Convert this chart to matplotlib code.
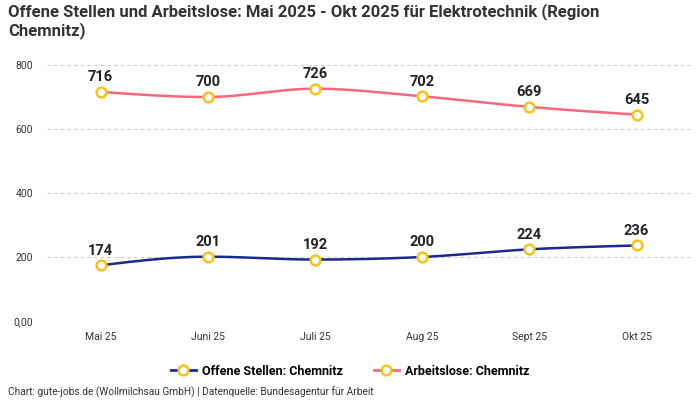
import numpy as np
import matplotlib.pyplot as plt
from matplotlib.lines import Line2D

months = ["Mai 25", "Juni 25", "Juli 25", "Aug 25", "Sept 25", "Okt 25"]
offene_stellen = [174, 201, 192, 200, 224, 236]
arbeitslose = [716, 700, 726, 702, 669, 645]
yticks = [0, 200, 400, 600, 800]
ytick_labels = ["0,00", "200", "400", "600", "800"]

navy = "#1b2a8a"
pink = "#f7687f"
yellow = "#f7c21b"

plt.rcParams['font.family'] = ['Roboto', 'DejaVu Sans']


def monotone(x, y, n=30):
    # d3 curveMonotoneX style smoothing
    x = np.asarray(x, float)
    y = np.asarray(y, float)
    h = np.diff(x)
    s = np.diff(y) / h
    m = np.zeros_like(y)
    for i in range(1, len(y) - 1):
        if s[i - 1] * s[i] <= 0:
            m[i] = 0
        else:
            p = (s[i - 1] * h[i] + s[i] * h[i - 1]) / (h[i - 1] + h[i])
            m[i] = np.sign(s[i - 1]) * min(abs(s[i - 1]), abs(s[i]), 0.5 * abs(p)) * 2
    m[0] = (3 * s[0] - m[1]) / 2
    m[-1] = (3 * s[-1] - m[-2]) / 2
    xs, ys = [], []
    for i in range(len(h)):
        t = np.linspace(0, 1, n)
        h00 = 2 * t**3 - 3 * t**2 + 1
        h10 = t**3 - 2 * t**2 + t
        h01 = -2 * t**3 + 3 * t**2
        h11 = t**3 - t**2
        xs.append(x[i] + t * h[i])
        ys.append(h00 * y[i] + h10 * h[i] * m[i] + h01 * y[i + 1] + h11 * h[i] * m[i + 1])
    return np.concatenate(xs), np.concatenate(ys)


fig = plt.figure(figsize=(7, 4), dpi=100)
ax = fig.add_axes([0.067, 0.1975, 0.919, 0.64])

x = np.arange(len(months))
for vals, col in [(offene_stellen, navy), (arbeitslose, pink)]:
    sx, sy = monotone(x, vals)
    ax.plot(sx, sy, color=col, lw=1.8, zorder=2)
    ax.plot(x, vals, 'o', ms=7, mfc='white', mec=yellow, mew=1.8, zorder=3)
    for xi, v in zip(x, vals):
        ax.annotate(str(v), (xi, v), xytext=(0, 5.5), textcoords='offset points',
                    ha='center', va='bottom', fontsize=10.5, fontweight='bold', color='#222222')

ax.set_xlim(-0.5, 5.5)
ax.set_ylim(0, 800)
ax.set_xticks(x)
ax.set_xticklabels(months, fontsize=7.5, color='#333333')
ax.set_yticks(yticks)
ax.set_yticklabels(ytick_labels, fontsize=7.5, color='#333333')
ax.tick_params(length=0)
ax.tick_params(axis='x', pad=8)
ax.tick_params(axis='y', pad=10)
for sp in ax.spines.values():
    sp.set_visible(False)
ax.grid(axis='y', ls=(0, (3, 3)), color='#cccccc', lw=0.8)
ax.set_axisbelow(True)

handles = [
    Line2D([0], [0], color=navy, lw=2, marker='o', ms=7, mfc='white', mec=yellow, mew=1.8),
    Line2D([0], [0], color=pink, lw=2, marker='o', ms=7, mfc='white', mec=yellow, mew=1.8),
]
leg = fig.legend(handles, ["Offene Stellen: Chemnitz", "Arbeitslose: Chemnitz"],
                 loc='center', bbox_to_anchor=(0.5, 0.072), ncol=2, frameon=False,
                 prop={'size': 9, 'weight': 'bold'}, handlelength=2.0, columnspacing=2.5,
                 handletextpad=0.5)

fig.text(0.012, 0.993, "Offene Stellen und Arbeitslose: Mai 2025 - Okt 2025 für Elektrotechnik (Region\nChemnitz)",
         ha='left', va='top', fontsize=12, fontweight='bold', color='#333333', linespacing=1.15)
fig.text(0.012, 0.006, "Chart: gute-jobs.de (Wollmilchsau GmbH) | Datenquelle: Bundesagentur für Arbeit",
         ha='left', va='bottom', fontsize=7.3, color='#333333')

fig.savefig("out.png", dpi=100)
